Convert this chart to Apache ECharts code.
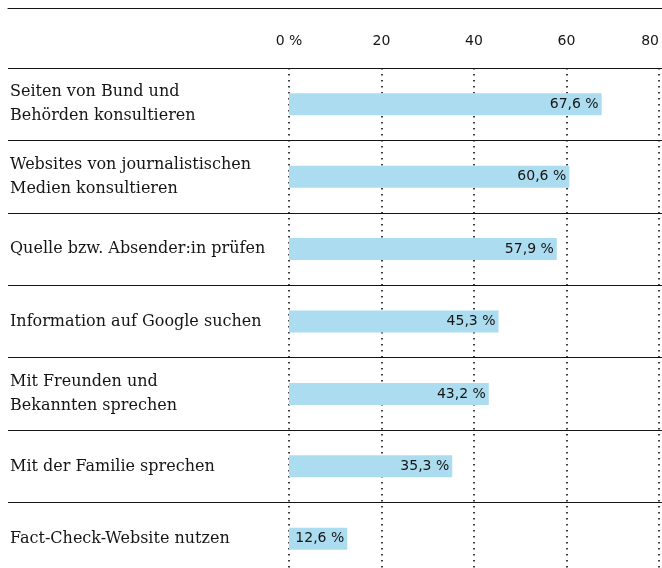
<!DOCTYPE html>
<html lang="de" style="height: 100%">
<head>
  <meta charset="utf-8">
</head>
<body style="height: 100%; margin: 0; background: #fff">
  <div id="container" style="width: 662px; height: 568px"></div>

  <script type="text/javascript" src="https://fastly.jsdelivr.net/npm/echarts@6/dist/echarts.min.js"></script>

  <script type="text/javascript">
    var dom = document.getElementById('container');
    var myChart = echarts.init(dom, null, { renderer: 'canvas' });

    const categories = [
      'Seiten von Bund und\nBehörden konsultieren',
      'Websites von journalistischen\nMedien konsultieren',
      'Quelle bzw. Absender:in prüfen',
      'Information auf Google suchen',
      'Mit Freunden und\nBekannten sprechen',
      'Mit der Familie sprechen',
      'Fact-Check-Website nutzen'
    ];
    const values = [67.6, 60.6, 57.9, 45.3, 43.2, 35.3, 12.6];
    const tickLabels = ['0 %', '20', '40', '60', '80'];

    const ink = '#151515';
    const sans = '"DejaVu Sans", sans-serif';
    const serif = '"DejaVu Serif", serif';

    var option = {
      animation: false,
      grid: [
        { left: 289, right: 3, top: 68, height: 507, outerBoundsMode: 'none' },
        { left: 8, right: 0, top: 68, height: 507, outerBoundsMode: 'none' }
      ],
      xAxis: [
        {
          type: 'value',
          position: 'top',
          min: 0,
          max: 80,
          interval: 20,
          axisLine: { show: false },
          axisTick: { show: false },
          axisLabel: {
            margin: 20,
            color: ink,
            fontFamily: sans,
            fontSize: 14,
            alignMaxLabel: 'right',
            formatter: function (v) { return tickLabels[Math.round(v / 20)]; }
          },
          splitLine: {
            lineStyle: { color: '#111', width: 1.6, type: [1.6, 4.4] }
          }
        },
        {
          type: 'value',
          gridIndex: 1,
          position: 'top',
          offset: 60,
          axisLine: { show: true, lineStyle: { color: ink, width: 1 } },
          axisTick: { show: false },
          axisLabel: { show: false },
          splitLine: { show: false }
        }
      ],
      yAxis: [
        {
          type: 'category',
          data: categories,
          inverse: true,
          axisLine: { show: false },
          axisTick: { show: false },
          axisLabel: {
            align: 'left',
            margin: 279,
            color: ink,
            fontFamily: serif,
            fontSize: 16,
            lineHeight: 24
          },
          splitLine: { show: false }
        },
        {
          type: 'category',
          gridIndex: 1,
          data: categories,
          inverse: true,
          axisLine: { show: false },
          axisTick: { show: false },
          axisLabel: { show: false },
          splitLine: {
            show: true,
            lineStyle: { color: ink, width: 1.2 }
          }
        }
      ],
      series: [
        {
          type: 'bar',
          data: values,
          barWidth: 22,
          itemStyle: { color: '#acdcef' },
          z: 3,
          label: {
            show: true,
            position: 'insideRight',
            distance: 3,
            color: ink,
            fontFamily: sans,
            fontSize: 14,
            formatter: function (p) { return String(p.value).replace('.', ',') + ' %'; }
          }
        }
      ]
    };

    myChart.setOption(option);
    window.addEventListener('resize', myChart.resize);
  </script>
</body>
</html>
